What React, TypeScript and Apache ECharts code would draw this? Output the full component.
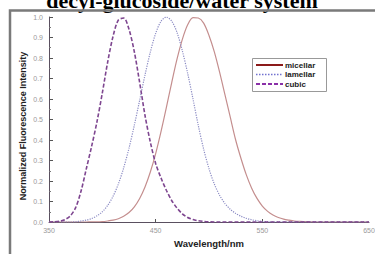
import React, { useEffect, useRef } from "react";
import * as echarts from "echarts";

const wavelengths: number[] = [
  350, 355, 360, 365, 370, 375, 380, 385, 390, 395, 400, 405, 410, 415, 420, 425, 430, 435, 440, 445,
  450, 455, 460, 465, 470, 475, 480, 485, 490, 495, 500, 505, 510, 515, 520, 525, 530, 535, 540, 545,
  550, 555, 560, 565, 570, 575, 580, 585, 590, 595, 600, 605, 610, 615, 620, 625, 630, 635, 640, 645, 650,
];

const micellar: number[] = [
  0, 0, 0, 0, 0, 0, 0, 0, 0.001, 0.001, 0.002, 0.005, 0.009, 0.016, 0.028, 0.046, 0.074, 0.115, 0.171, 0.244,
  0.334, 0.441, 0.558, 0.679, 0.794, 0.891, 0.962, 0.997, 0.995, 0.97, 0.91, 0.83, 0.73, 0.62, 0.51, 0.4, 0.31, 0.23, 0.165, 0.115,
  0.078, 0.052, 0.034, 0.022, 0.014, 0.009, 0.005, 0.003, 0.002, 0.001, 0, 0, 0, 0, 0, 0, 0, 0, 0, 0, 0,
];

const lamellar: number[] = [
  0, 0, 0, 0, 0, 0.001, 0.005, 0.009, 0.017, 0.03, 0.05, 0.081, 0.125, 0.185, 0.264, 0.36, 0.472, 0.594, 0.717, 0.829,
  0.92, 0.979, 1.0, 0.98, 0.925, 0.835, 0.725, 0.6, 0.47, 0.355, 0.26, 0.185, 0.13, 0.09, 0.062, 0.042, 0.028, 0.018, 0.011, 0.006,
  0.003, 0.001, 0, 0, 0, 0, 0, 0, 0, 0, 0, 0, 0, 0, 0, 0, 0, 0, 0, 0, 0,
];

const cubic: number[] = [
  0, 0.001, 0.004, 0.012, 0.03, 0.07, 0.15, 0.26, 0.37, 0.49, 0.63, 0.78, 0.905, 0.985, 0.995, 0.94, 0.83, 0.68, 0.52, 0.39,
  0.285, 0.215, 0.155, 0.105, 0.068, 0.04, 0.022, 0.012, 0.006, 0.003, 0.001, 0, 0, 0, 0, 0, 0, 0, 0, 0,
  0, 0, 0, 0, 0, 0, 0, 0, 0, 0, 0, 0, 0, 0, 0, 0, 0, 0, 0, 0, 0,
];

const seriesNames: string[] = ["micellar", "lamellar", "cubic"];
const xLabelValues: number[] = [350, 450, 550, 650];
const xTickValues: number[] = [450, 550];

const titleText = "decyl-glucoside/water system";
const xName = "Wavelength/nm";
const yName = "Normalized Fluorescence Intensity";

const pairs = (ys: number[]) => wavelengths.map((w, i) => [w, ys[i]]);

export default function App() {
  const ref = useRef<HTMLDivElement>(null);
  useEffect(() => {
    if (!ref.current) return;
    const chart = echarts.init(ref.current, null, { renderer: "svg" });
    const sans = "'Liberation Sans', Arial, sans-serif";

    const legendLines = [
      { stroke: "#8b1a1a", lineWidth: 2, lineDash: null as number[] | null },
      { stroke: "#7272d0", lineWidth: 1.5, lineDash: [1.5, 1.5] },
      { stroke: "#8a30a8", lineWidth: 2, lineDash: [4, 2] },
    ];
    const lx = 252;
    const ly = 58;
    const legendGraphics: any[] = [
      {
        type: "rect",
        shape: { x: lx + 0.5, y: ly + 0.5, width: 74, height: 33 },
        style: { fill: "#fff", stroke: "#999", lineWidth: 1 },
        z: 20,
      },
    ];
    seriesNames.forEach((name, i) => {
      const cy = ly + 7 + i * 9.5;
      legendGraphics.push({
        type: "line",
        shape: { x1: lx + 4, y1: cy, x2: lx + 31, y2: cy },
        style: {
          stroke: legendLines[i].stroke,
          lineWidth: legendLines[i].lineWidth,
          lineDash: legendLines[i].lineDash || undefined,
        },
        z: 21,
      });
      legendGraphics.push({
        type: "text",
        x: lx + 33,
        y: cy,
        style: {
          text: name,
          font: `bold 8px ${sans}`,
          fill: "#222",
          align: "left",
          verticalAlign: "middle",
        },
        z: 21,
      });
    });

    chart.setOption({
      animation: false,
      backgroundColor: "#ffffff",
      grid: { left: 49, right: 6, top: 17, bottom: 32, containLabel: false, outerBoundsMode: "none" },
      xAxis: {
        type: "value",
        min: 350,
        max: 650,
        interval: 50,
        axisLine: { show: true, lineStyle: { color: "#5a5060", width: 1 } },
        axisTick: { show: true, inside: true, length: 3, customValues: xTickValues, lineStyle: { color: "#555" } },
        axisLabel: { customValues: xLabelValues, color: "#999", fontSize: 7, fontFamily: sans, margin: 5 },
        splitLine: { show: false },
      },
      yAxis: {
        type: "value",
        min: 0,
        max: 1,
        interval: 0.1,
        axisLine: { show: true, lineStyle: { color: "#5a5060", width: 1 } },
        axisTick: { show: true, inside: true, length: 4, lineStyle: { color: "#555" } },
        minorTick: { show: true, splitNumber: 2, length: 2, lineStyle: { color: "#777" } },
        axisLabel: {
          color: "#999",
          fontSize: 7,
          fontFamily: sans,
          margin: 6,
          formatter: (v: number) => v.toFixed(1),
        },
        splitLine: { show: false },
      },
      series: [
        {
          name: seriesNames[0],
          type: "line",
          data: pairs(micellar),
          symbol: "none",
          smooth: 0.3,
          lineStyle: { color: "#c48e8e", width: 1.2, type: "solid" },
          itemStyle: { color: "#c48e8e" },
          z: 3,
        },
        {
          name: seriesNames[1],
          type: "line",
          data: pairs(lamellar),
          symbol: "none",
          smooth: 0.3,
          lineStyle: { color: "#8c8cc4", width: 1.2, type: "dotted" },
          itemStyle: { color: "#8c8cc4" },
          z: 4,
        },
        {
          name: seriesNames[2],
          type: "line",
          data: pairs(cubic),
          symbol: "none",
          smooth: 0.3,
          lineStyle: { color: "#7e4690", width: 1.6, type: [4, 2] },
          itemStyle: { color: "#7e4690" },
          z: 5,
        },
      ],
      graphic: [
        {
          type: "text",
          x: 182,
          y: 0,
          style: {
            text: titleText,
            font: "bold 22px 'Liberation Serif', 'Times New Roman', serif",
            fill: "#000",
            align: "center",
            verticalAlign: "middle",
          },
          z: 10,
        },
        {
          type: "rect",
          shape: { x: 10, y: 10.5, width: 400, height: 300 },
          style: { fill: "none", stroke: "#7a7a7a", lineWidth: 2.5 },
          z: 11,
        },
        {
          type: "text",
          x: 23,
          y: 126,
          rotation: Math.PI / 2,
          style: {
            text: yName,
            font: `bold 9px ${sans}`,
            fill: "#222",
            align: "center",
            verticalAlign: "middle",
          },
          z: 10,
        },
        {
          type: "text",
          x: 209,
          y: 243,
          style: {
            text: xName,
            font: `bold 9.5px ${sans}`,
            fill: "#222",
            align: "center",
            verticalAlign: "middle",
          },
          z: 10,
        },
        ...legendGraphics,
      ],
    });
    return () => chart.dispose();
  }, []);
  return (
    <div
      ref={ref}
      style={{ position: "fixed", left: 0, top: 0, width: 375, height: 254, background: "#fff" }}
    />
  );
}
